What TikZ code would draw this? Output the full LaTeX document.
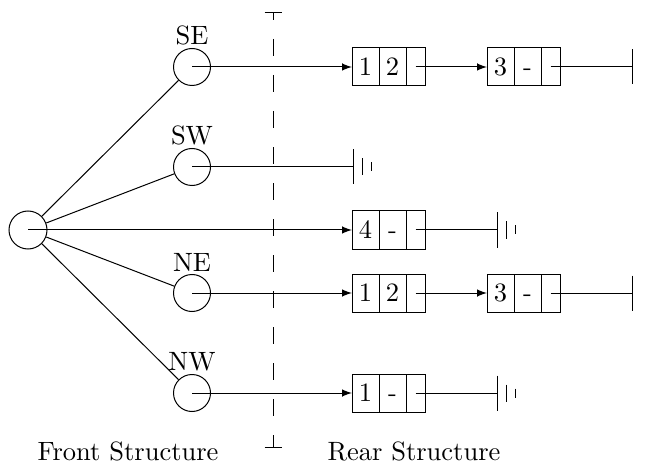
\documentclass[tikz,border=0pt]{standalone}
\usepackage{amsmath}
\usepackage{tikz}
\usetikzlibrary{positioning}

\begin{document}
\begin{tikzpicture}[x=0.4pt, y=-0.4pt, >=latex,
    every node/.style={font=\fontsize{10.6pt}{12.7pt}\selectfont},
    hub/.style={circle, draw, minimum size=15.2pt, inner sep=0pt},
    quad/.style={circle, draw, minimum size=14.8pt, inner sep=0pt},
    cell/.style={draw, minimum width=10.8pt, minimum height=15.2pt, inner sep=0pt, outer sep=0pt,
      text height=6.8pt, text depth=0pt},
    link/.style={draw, minimum width=7.6pt, minimum height=15.2pt, inner sep=0pt, outer sep=0pt},
    nullbar/.pic={\draw (0,-17.5) -- (0,17.5);},
    ground/.pic={\draw (0,-17.5) -- (0,17.5) (9,-8.5) -- (9,8.5) (18,-4.5) -- (18,4.5);}]
  \useasboundingbox (0,0) rectangle (645,465);

  % front structure
  \node[hub] (r) at (28,230) {};
  \node[quad, label={[inner sep=1pt]above:SE}] (se) at (192,67) {};
  \node[quad, label={[inner sep=1pt]above:SW}] (sw) at (192,167) {};
  \node[quad, label={[inner sep=1pt]above:NE}] (ne) at (192,293) {};
  \node[quad, label={[inner sep=1pt]above:NW}] (nw) at (192,393) {};

  \draw (r) -- (se);
  \draw (r) -- (sw);
  \draw (r) -- (ne);
  \draw (r) -- (nw);

  % divider
  \coordinate (top) at (273,13);
  \coordinate (bot) at (273,447);
  \draw[dash pattern=on 6.8pt off 7.6pt, dash phase=4pt] (top) -- (bot);
  \draw ([xshift=-3.4pt]top) -- ([xshift=3.4pt]top);
  \draw ([xshift=-3.4pt]bot) -- ([xshift=3.4pt]bot);

  % rear structure: SE
  \node[cell, anchor=west] (se1) at (352,67) {1};
  \node[cell, right=0pt of se1] (se2) {2};
  \node[link, right=0pt of se2] (se3) {};
  \node[cell, anchor=west] (se4) at (487,67) {3};
  \node[cell, right=0pt of se4] (se5) {-};
  \node[link, right=0pt of se5] (se6) {};
  \coordinate (seend) at (632,67);
  \draw[->] (se.center) -- (se1);
  \draw[->] (se3.center) -- (se4);
  \draw (se6.center) -- (seend);
  \pic at (seend) {nullbar};

  % SW
  \coordinate (swend) at (353,167);
  \draw (sw.center) -- (swend);
  \pic at (swend) {ground};

  % root
  \node[cell, anchor=west] (r1) at (352,230) {4};
  \node[cell, right=0pt of r1] (r2) {-};
  \node[link, right=0pt of r2] (r3) {};
  \coordinate (rend) at (497,230);
  \draw[->] (r.center) -- (r1);
  \draw (r3.center) -- (rend);
  \pic at (rend) {ground};

  % NE
  \node[cell, anchor=west] (ne1) at (352,293) {1};
  \node[cell, right=0pt of ne1] (ne2) {2};
  \node[link, right=0pt of ne2] (ne3) {};
  \node[cell, anchor=west] (ne4) at (487,293) {3};
  \node[cell, right=0pt of ne4] (ne5) {-};
  \node[link, right=0pt of ne5] (ne6) {};
  \coordinate (neend) at (632,293);
  \draw[->] (ne.center) -- (ne1);
  \draw[->] (ne3.center) -- (ne4);
  \draw (ne6.center) -- (neend);
  \pic at (neend) {nullbar};

  % NW
  \node[cell, anchor=west] (nw1) at (352,393) {1};
  \node[cell, right=0pt of nw1] (nw2) {-};
  \node[link, right=0pt of nw2] (nw3) {};
  \coordinate (nwend) at (497,393);
  \draw[->] (nw.center) -- (nw1);
  \draw (nw3.center) -- (nwend);
  \pic at (nwend) {ground};

  \node (front) at (128,451) {Front Structure};
  \node (rear) at (414,451) {Rear Structure};
\end{tikzpicture}
\end{document}
